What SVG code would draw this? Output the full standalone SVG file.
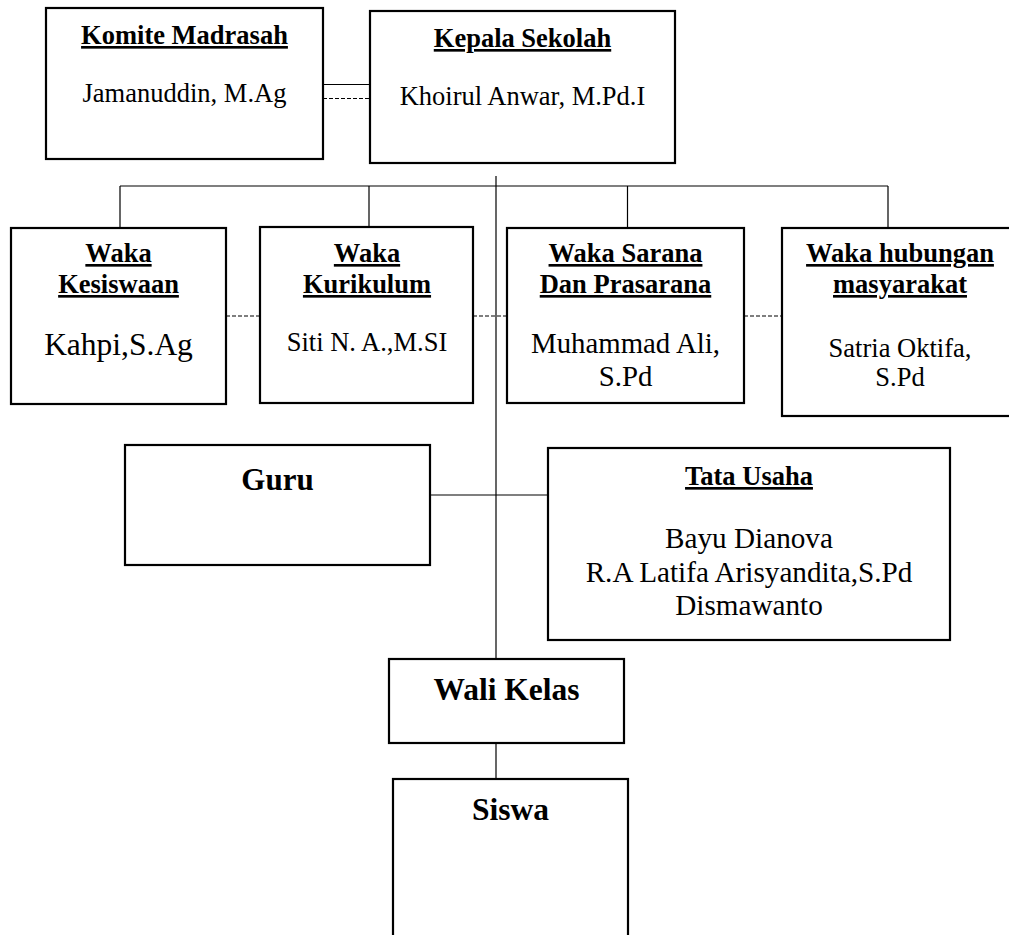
<svg xmlns="http://www.w3.org/2000/svg" width="1009" height="935" viewBox="0 0 1009 935">
<style>
.box{fill:#fff;stroke:#000;stroke-width:2.2}
.ln{fill:none;stroke:#000;stroke-width:1.2}
.dash{fill:none;stroke:#000;stroke-width:1.2;stroke-dasharray:4 2}
text{font-family:"Liberation Serif","Times New Roman",serif;fill:#000;text-anchor:middle}
.t{font-weight:bold;font-size:26.5px;text-decoration:underline}
.n{font-size:26.5px}
.b{font-weight:bold;font-size:31.5px}
</style>
<rect width="1009" height="935" fill="#fff"/>
<g id="connectors">
<path class="ln" d="M323 84.5H370"/>
<path class="dash" d="M323 98.5H370"/>
<path class="ln" d="M496 176V659"/>
<path class="ln" d="M120 186H888"/>
<path class="ln" d="M120 186V228M369 186V227M627.5 186V228M888 186V228"/>
<path class="dash" d="M226 316H260M473 316H507M744 316H782"/>
<path class="ln" d="M430 495H548"/>
<path class="ln" d="M496 743V779"/>
</g>
<g id="komite">
<rect class="box" x="46" y="8" width="277" height="151"/>
<text class="t" x="184.5" y="44">Komite Madrasah</text>
<text class="n" x="184.5" y="102">Jamanuddin, M.Ag</text>
</g>
<g id="kepala">
<rect class="box" x="370" y="11" width="305" height="152"/>
<text class="t" x="522.5" y="47">Kepala Sekolah</text>
<text class="n" x="522.5" y="105">Khoirul Anwar, M.Pd.I</text>
</g>
<g id="kesiswaan">
<rect class="box" x="11" y="228" width="215" height="176"/>
<text class="t" x="118.5" y="262">Waka</text>
<text class="t" x="118.5" y="293">Kesiswaan</text>
<text class="n" x="118.5" y="355" style="font-size:31.5px">Kahpi,S.Ag</text>
</g>
<g id="kurikulum">
<rect class="box" x="260" y="227" width="213" height="176"/>
<text class="t" x="367" y="262">Waka</text>
<text class="t" x="367" y="293">Kurikulum</text>
<text class="n" x="367" y="351">Siti N. A.,M.SI</text>
</g>
<g id="sarana">
<rect class="box" x="507" y="228" width="237" height="175"/>
<text class="t" x="625.5" y="262">Waka Sarana</text>
<text class="t" x="625.5" y="293">Dan Prasarana</text>
<text class="n" x="625.5" y="353" style="font-size:28.8px">Muhammad Ali,</text>
<text class="n" x="625.5" y="386" style="font-size:28.8px">S.Pd</text>
</g>
<g id="humas">
<rect class="box" x="782" y="228" width="240" height="188"/>
<text class="t" x="900" y="262">Waka hubungan</text>
<text class="t" x="900" y="293">masyarakat</text>
<text class="n" x="900" y="357">Satria Oktifa,</text>
<text class="n" x="900" y="386">S.Pd</text>
</g>
<g id="guru">
<rect class="box" x="125" y="445" width="305" height="120"/>
<text class="b" x="277.5" y="490" style="font-size:31px">Guru</text>
</g>
<g id="tata-usaha">
<rect class="box" x="548" y="448" width="402" height="192"/>
<text class="t" x="749" y="485">Tata Usaha</text>
<text class="n" x="749" y="548" style="font-size:29.2px">Bayu Dianova</text>
<text class="n" x="749" y="582" style="font-size:29.2px">R.A Latifa Arisyandita,S.Pd</text>
<text class="n" x="749" y="615" style="font-size:29.2px">Dismawanto</text>
</g>
<g id="wali-kelas">
<rect class="box" x="389" y="659" width="235" height="84"/>
<text class="b" x="506.5" y="700">Wali Kelas</text>
</g>
<g id="siswa">
<rect class="box" x="393" y="779" width="235" height="170"/>
<text class="b" x="510.5" y="820">Siswa</text>
</g>
</svg>
